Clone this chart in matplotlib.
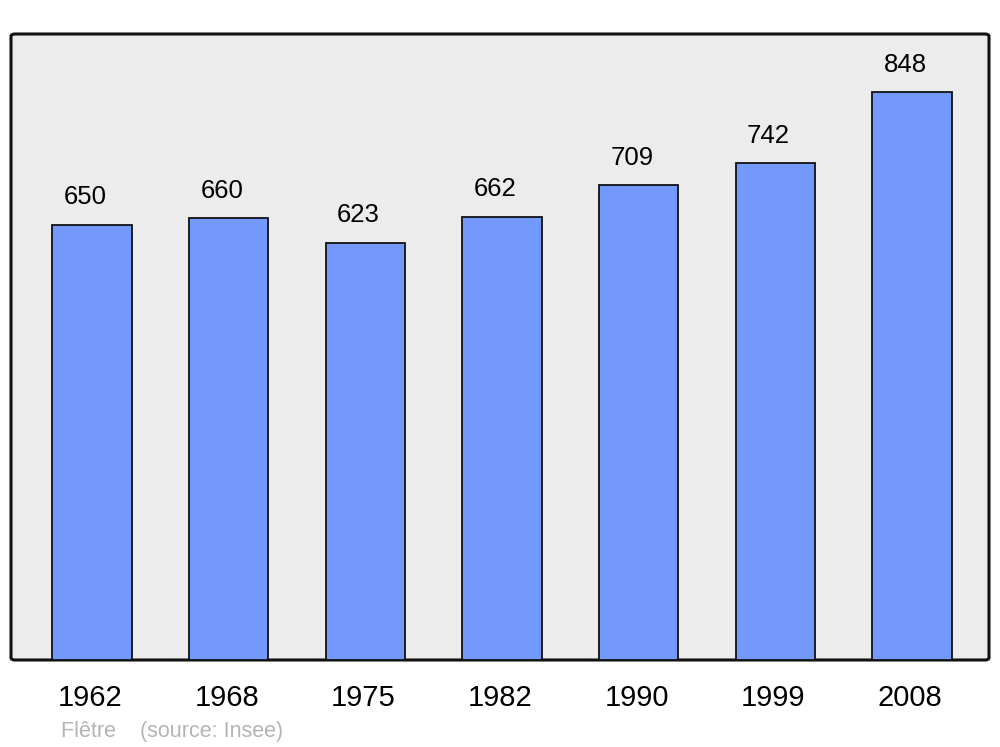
import matplotlib
matplotlib.use("Agg")
import matplotlib.pyplot as plt
from matplotlib.patches import FancyBboxPatch
from matplotlib.transforms import ScaledTranslation

plt.rcParams['font.family'] = ['Liberation Sans', 'DejaVu Sans']

years = ['1962', '1968', '1975', '1982', '1990', '1999', '2008']
population = [650, 660, 623, 662, 709, 742, 848]

fig = plt.figure(figsize=(10, 7.47), dpi=100)
# axes box in pixels: x 11..989, y 34..660 (from top)
ax = fig.add_axes([11 / 1000, (747 - 660) / 747, 978 / 1000, 626 / 747])
ax.set_xlim(-0.593, 6.563)
ax.set_ylim(0, 934.6)
ax.patch.set_visible(False)
for s in ax.spines.values():
    s.set_visible(False)

# rounded frame with grey fill
frame = FancyBboxPatch((0, 0), 1, 1, boxstyle="round,pad=0,rounding_size=0.004",
                       transform=ax.transAxes, facecolor='#ececec',
                       edgecolor='#111111', linewidth=2.2, zorder=0, clip_on=False)
ax.add_patch(frame)

x = list(range(len(years)))
bars = ax.bar(x, population, width=0.58, color='#7399ff', edgecolor='#111111',
              linewidth=1.3, zorder=2)

for xi, v in zip(x, population):
    ax.annotate(str(v), (xi, v), xytext=(-5, 11), textcoords='offset points',
                ha='center', va='bottom', fontsize=18.5, color='black')

ax.set_xticks(x)
ax.set_xticklabels(years, fontsize=21)
ax.tick_params(axis='x', length=0, pad=17)
ax.set_yticks([])
shift = ScaledTranslation(-2 / 100, 0, fig.dpi_scale_trans)
for lbl in ax.get_xticklabels():
    lbl.set_transform(lbl.get_transform() + shift)

fig.text(0.061, 0.014, 'Flêtre    (source: Insee)', fontsize=15.5,
         color='#b4b4b4', ha='left', va='baseline')

fig.savefig('out.png', dpi=100)
